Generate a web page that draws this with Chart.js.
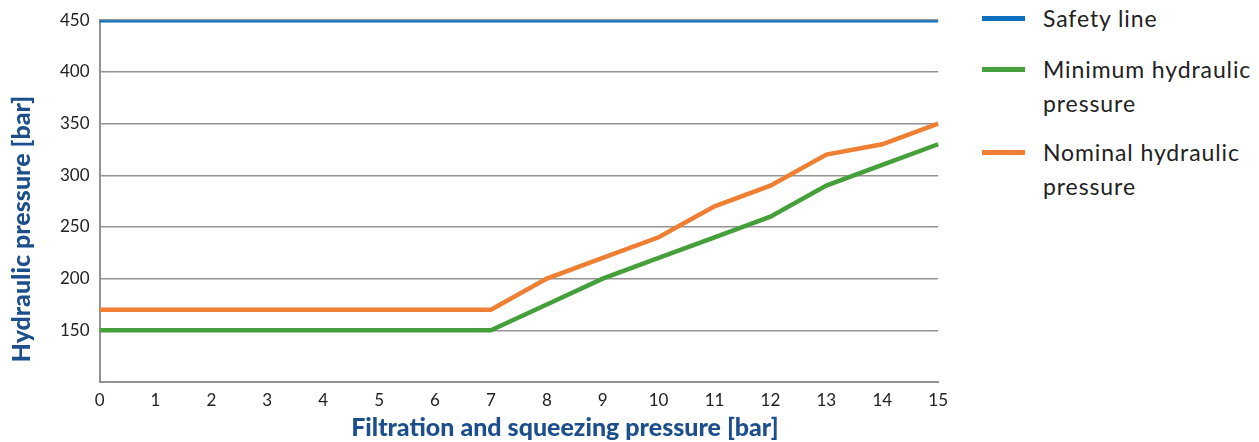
<!DOCTYPE html>
<html>
<head>
<meta charset="utf-8">
<script src="https://cdn.jsdelivr.net/npm/chart.js@4/dist/chart.umd.min.js"></script>
<style>
  body { margin: 0; background: #fff; }
  .wrap { position: relative; width: 1259px; height: 442px; }
  .box { position: absolute; left: 0; top: 0; width: 958px; height: 442px; }
  #legend { position: absolute; left: 982px; top: 1px; font-family: Lato, sans-serif; font-size: 23px; letter-spacing: 0.9px; color: #222; }
  #legend .item { display: flex; align-items: flex-start; margin-bottom: 15px; line-height: 34px; }
  #legend .item:first-child { margin-bottom: 17px; }
  #legend .swatch { width: 43px; height: 5px; margin-top: 15px; margin-right: 18px; flex: none; }
  #legend .txt { width: 230px; }
</style>
</head>
<body>
<div class="wrap">
  <div class="box"><canvas id="grfc-pressao"></canvas></div>
  <div id="legend"></div>
</div>
<script>
const xLabels = ['0', '1', '2', '3', '4', '5', '6', '7', '8', '9', '10', '11', '12', '13', '14', '15'];
const safetyLine = [450, 450, 450, 450, 450, 450, 450, 450, 450, 450, 450, 450, 450, 450, 450, 450];
const minPressure = [150, 150, 150, 150, 150, 150, 150, 150, 175, 200, 220, 240, 260, 290, 310, 330];
const nomPressure = [170, 170, 170, 170, 170, 170, 170, 170, 200, 220, 240, 270, 290, 320, 330, 350];
const seriesNames = ['Safety line', 'Minimum hydraulic pressure', 'Nominal hydraulic pressure'];
const xTitle = 'Filtration and squeezing pressure [bar]';
const yTitle = 'Hydraulic pressure [bar]';
const yMin = 100, yMax = 450, yStep = 50;

const blue = '#0b6fbd', green = '#45a03b', orange = '#ee7f33';
const grey = '#969291';
const titleBlue = '#1d4f8c';

// titulos dos eixos desenhados a parte (no original nao estao centrados no grafico)
const axisTitles = {
  id: 'axisTitles',
  afterDraw(chart) {
    const c = chart.ctx, a = chart.chartArea;
    c.save();
    c.fillStyle = titleBlue;
    c.font = '900 25px Lato';
    c.textAlign = 'center';
    c.textBaseline = 'middle';
    c.fillText(xTitle, (a.left + a.right) / 2 + 46, chart.height - 14);
    c.translate(22, (a.top + a.bottom) / 2 + 28);
    c.rotate(-Math.PI / 2);
    c.fillText(yTitle, 0, 0);
    c.restore();
  }
};

let ctx = document.getElementById('grfc-pressao');
let chart = new Chart(ctx, {
  type: 'line',
  data: {
    labels: xLabels,
    datasets: [
      { label: seriesNames[0], data: safetyLine, borderColor: blue, borderWidth: 4.5 },
      { label: seriesNames[1], data: minPressure, borderColor: green, borderWidth: 4.5 },
      { label: seriesNames[2], data: nomPressure, borderColor: orange, borderWidth: 4.5 }
    ]
  },
  plugins: [axisTitles],
  options: {
    responsive: true,
    maintainAspectRatio: false,
    animation: false,
    layout: { padding: { left: 50, right: 6, top: 0, bottom: 23 } },
    elements: { point: { radius: 0 }, line: { tension: 0, borderCapStyle: 'butt' } },
    plugins: { legend: { display: false }, tooltip: { enabled: false } },
    scales: {
      x: {
        offset: false,
        grid: { display: false, drawTicks: false },
        border: { display: true, color: grey, width: 2 },
        ticks: { color: '#222', padding: 10, maxRotation: 0, autoSkip: false, font: { family: 'Lato', size: 17, lineHeight: 1 } }
      },
      y: {
        min: yMin,
        max: yMax,
        grid: { color: grey, lineWidth: 1.5, drawTicks: false },
        border: { display: true, color: grey, width: 2 },
        ticks: {
          stepSize: yStep,
          color: '#222',
          padding: 10,
          font: { family: 'Lato', size: 17 },
          callback: v => v === yMin ? '' : v
        }
      }
    }
  }
});

// legenda em html, para quebrar o texto em duas linhas
let legend = document.getElementById('legend');
chart.data.datasets.forEach(ds => {
  let item = document.createElement('div');
  item.className = 'item';
  item.innerHTML = '<span class="swatch" style="background:' + ds.borderColor + '"></span><span class="txt">' + ds.label + '</span>';
  legend.appendChild(item);
});
</script>
</body>
</html>
